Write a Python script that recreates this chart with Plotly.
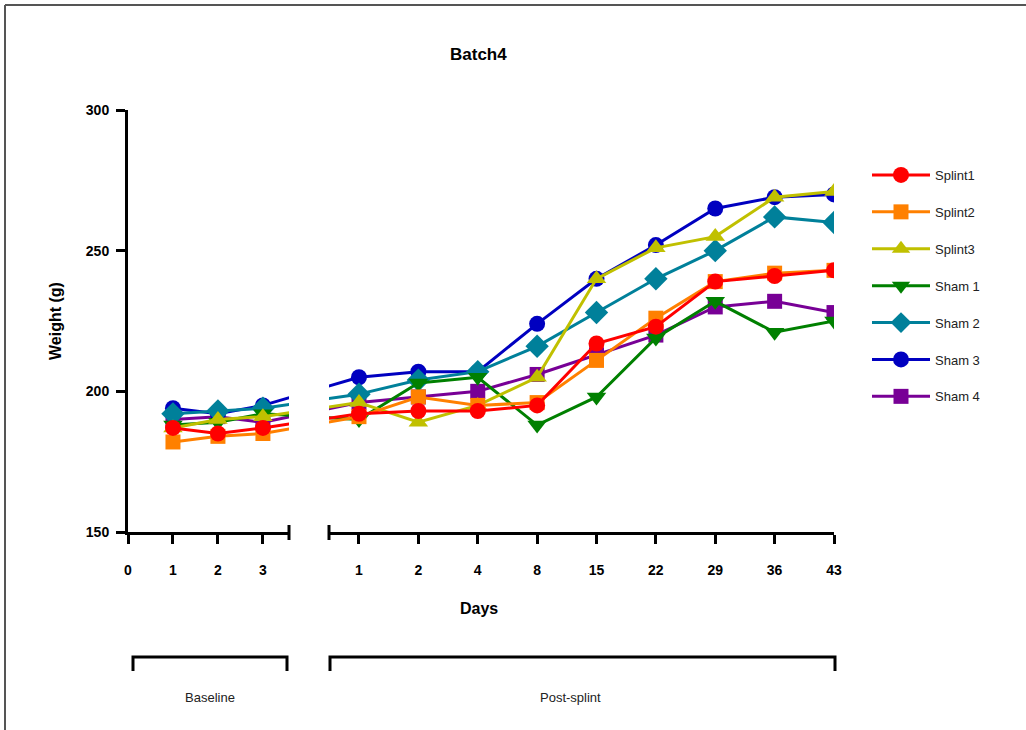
import plotly.graph_objects as go

# ---------------- data ----------------
series_names = ["Splint1", "Splint2", "Splint3", "Sham 1", "Sham 2", "Sham 3", "Sham 4"]
baseline_days = [1, 2, 3]
baseline_ticks = [0, 1, 2, 3]
post_days = ["1", "2", "4", "8", "15", "22", "29", "36", "43"]

splint1_base = [187, 185, 187]
splint2_base = [182, 184, 185]
splint3_base = [187, 190, 191]
sham1_base = [188, 189, 192]
sham2_base = [192, 193, 194]
sham3_base = [194, 192, 195]
sham4_base = [190, 191, 189]

splint1_post = [192, 193, 193, 195, 217, 223, 239, 241, 243]
splint2_post = [191, 198, 195, 196, 211, 226, 239, 242, 243]
splint3_post = [196, 189, 195, 205, 240, 251, 255, 269, 271]
sham1_post = [190, 203, 205, 188, 198, 219, 232, 221, 225]
sham2_post = [199, 204, 207, 216, 228, 240, 250, 262, 260]
sham3_post = [205, 207, 207, 224, 240, 252, 265, 269, 270]
sham4_post = [196, 198, 200, 206, 213, 220, 230, 232, 228]

y_ticks = [150, 200, 250, 300]

base_values = [splint1_base, splint2_base, splint3_base, sham1_base, sham2_base, sham3_base, sham4_base]
post_values = [splint1_post, splint2_post, splint3_post, sham1_post, sham2_post, sham3_post, sham4_post]

# ---------------- styles ----------------
colors = ["#FF0000", "#FF8000", "#C0C000", "#008000", "#00809A", "#0000C0", "#780096"]
symbols = ["circle", "square", "triangle-up", "triangle-down", "diamond", "circle", "square"]
sizes = [16, 15, 17, 17, 18, 16, 15]

W, H = 1026, 730

def px(x):
    return x / W
def py(y):
    return 1 - y / H

FONT = "Liberation Sans, Arial, sans-serif"

base_dom_px = (128, 289)
post_dom_px = (329, 834)
base_range = [0, 3.58]
post_range = [-0.505, 8]

base_unit = (base_dom_px[1] - base_dom_px[0]) / (base_range[1] - base_range[0])
post_unit = (post_dom_px[1] - post_dom_px[0]) / (post_range[1] - post_range[0])

def base_to_px(v):
    return base_dom_px[0] + (v - base_range[0]) * base_unit
def post_to_px(v):
    return post_dom_px[0] + (v - post_range[0]) * post_unit
def px_to_base(p):
    return base_range[0] + (p - base_dom_px[0]) / base_unit
def px_to_post(p):
    return post_range[0] + (p - post_dom_px[0]) / post_unit

post_idx = list(range(len(post_days)))

fig = go.Figure()

# draw in reverse so that the first series ends up on top
for i in reversed(range(len(series_names))):
    c = colors[i]
    b = base_values[i]
    p = post_values[i]
    # connectors across the axis break (each half clipped by its own subplot)
    x_p1_in_base = px_to_base(post_to_px(post_idx[0]))
    x_b3_in_post = px_to_post(base_to_px(baseline_days[-1]))
    fig.add_trace(go.Scatter(x=[baseline_days[-1], x_p1_in_base], y=[b[-1], p[0]],
                             mode="lines", line=dict(color=c, width=3),
                             xaxis="x", yaxis="y", showlegend=False, hoverinfo="skip"))
    fig.add_trace(go.Scatter(x=[x_b3_in_post, post_idx[0]], y=[b[-1], p[0]],
                             mode="lines", line=dict(color=c, width=3),
                             xaxis="x2", yaxis="y", showlegend=False, hoverinfo="skip"))
    fig.add_trace(go.Scatter(x=baseline_days, y=b, mode="lines+markers",
                             line=dict(color=c, width=3),
                             marker=dict(symbol=symbols[i], size=sizes[i], color=c, line=dict(width=0)),
                             xaxis="x", yaxis="y", showlegend=False))
    fig.add_trace(go.Scatter(x=post_idx, y=p, mode="lines+markers", name=series_names[i],
                             line=dict(color=c, width=3), legendrank=i + 1,
                             legendgroup=series_names[i],
                             marker=dict(symbol=symbols[i], size=sizes[i], color=c, line=dict(width=0)),
                             xaxis="x2", yaxis="y"))

axis_common = dict(showline=True, linecolor="black", linewidth=3, ticks="outside",
                   ticklen=9, tickwidth=3, tickcolor="black", showgrid=False, zeroline=False,
                   tickfont=dict(family=FONT, size=14, color="black", weight="bold"))

fig.update_layout(
    width=W, height=H,
    margin=dict(l=0, r=0, t=0, b=0, pad=0, autoexpand=False),
    paper_bgcolor="white", plot_bgcolor="white",
    showlegend=True,
    legend=dict(x=px(867), y=py(160), xanchor="left", yanchor="top",
                traceorder="grouped", tracegroupgap=17,
                font=dict(family=FONT, size=13, color="#222222"),
                bgcolor="rgba(0,0,0,0)", itemwidth=58),
    xaxis=dict(domain=[px(base_dom_px[0]), px(base_dom_px[1])], range=base_range,
               tickvals=baseline_ticks, ticktext=[str(t) for t in baseline_ticks],
               anchor="y", ticklabelstandoff=14, **axis_common),
    xaxis2=dict(domain=[px(post_dom_px[0]), px(post_dom_px[1])], range=post_range,
                tickvals=post_idx, ticktext=post_days,
                anchor="y", ticklabelstandoff=14, **axis_common),
    yaxis=dict(domain=[py(532), py(110)], range=[150, 300], tickvals=y_ticks,
               anchor="x", ticklabelstandoff=4, **axis_common),
)

shapes = []
# axis-break end caps
for xb in (289, 329):
    shapes.append(dict(type="line", xref="paper", yref="paper",
                       x0=px(xb), x1=px(xb), y0=py(525), y1=py(540),
                       line=dict(color="black", width=3)))
# group brackets under the axis
for x0, x1 in ((133, 287), (330, 835)):
    shapes.append(dict(type="path", xref="paper", yref="paper",
                       path=f"M {px(x0)} {py(671)} L {px(x0)} {py(657)} L {px(x1)} {py(657)} L {px(x1)} {py(671)}",
                       line=dict(color="black", width=3)))
# outer frame (top and left edges)
shapes.append(dict(type="line", xref="paper", yref="paper", x0=px(5), x1=1, y0=py(5), y1=py(5),
                   line=dict(color="#555555", width=2)))
shapes.append(dict(type="line", xref="paper", yref="paper", x0=px(5), x1=px(5), y0=py(5), y1=0,
                   line=dict(color="#555555", width=2)))
fig.update_layout(shapes=shapes)

annotations = [
    dict(text="Batch4", x=px(478), y=py(55), font=dict(family=FONT, size=17, color="black", weight="bold")),
    dict(text="Days", x=px(479), y=py(608), font=dict(family=FONT, size=16, color="black", weight="bold")),
    dict(text="Weight (g)", x=px(55), y=py(321), textangle=-90,
         font=dict(family=FONT, size=16, color="black", weight="bold")),
    dict(text="Baseline", x=px(210), y=py(697), font=dict(family=FONT, size=13, color="#222222")),
    dict(text="Post-splint", x=px(570), y=py(697), font=dict(family=FONT, size=13, color="#222222")),
]
for a in annotations:
    a.update(xref="paper", yref="paper", showarrow=False, xanchor="center", yanchor="middle")
fig.update_layout(annotations=annotations)

fig.write_html("out.html")
